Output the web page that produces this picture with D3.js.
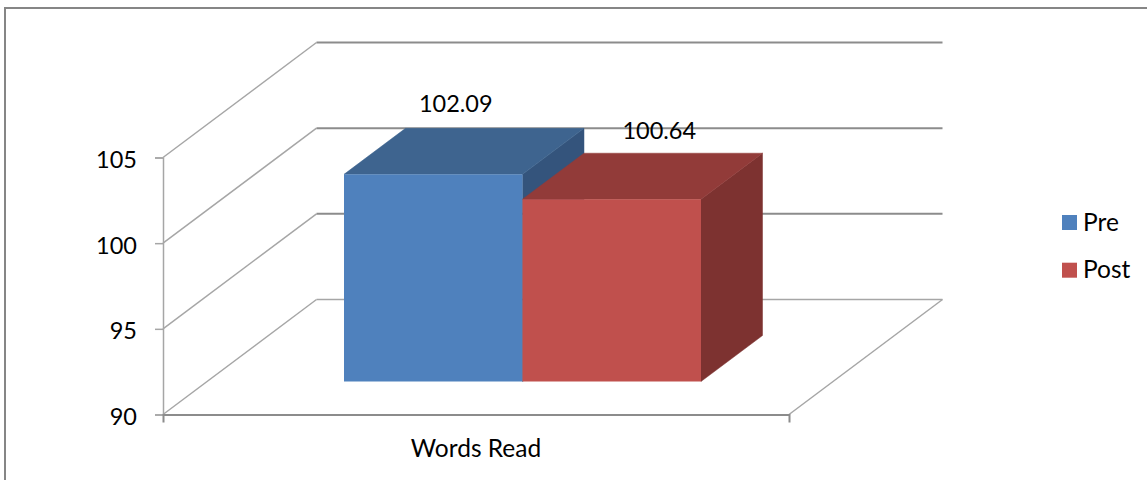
<!DOCTYPE html>
<head>
<meta charset="utf-8">
<style>
    html, body { margin: 0; padding: 0; background: #fff; }
    svg { display: block; }
    text { font-family: Lato, "Open Sans", sans-serif; font-size: 24.5px; fill: #000; }
    text.num { font-size: 23.5px; }
</style>
</head>
<body>
    <script src="https://d3js.org/d3.v7.min.js"></script>
    <script>

    ////////// DATA //////////

    const categories = ['Words Read'];
    const seriesNames = ['Pre', 'Post'];
    const seriesValues = [102.09, 100.64];
    const tickValues = [90, 95, 100, 105];
    const frontColors = ['#4f81bd', '#c0504d'];
    const topColors = ['#3e648f', '#923b39'];
    const sideColors = ['#34547c', '#7d3230'];

    ////////// SETUP //////////

    const width = 1147, height = 480;
    const wall = { dx: 153.5, dy: -115 };      // how far the back wall sits from the front
    const barFront = { dx: 46.5, dy: -33 };    // bar front face offset from the axis plane
    const barDepth = { dx: 61.5, dy: -46 };
    const labelShiftX = [22.5, 47.5];          // data labels sit at different offsets in the original
    const labelShiftY = [-62, -60];

    const svg = d3.select('body').append('svg')
        .attr('width', width)
        .attr('height', height);

    const y = d3.scaleLinear().domain([90, 105]).range([414.5, 157.5]);
    const x0 = d3.scaleBand().domain(categories).range([163, 789]);
    const barsWidth = 357;
    const center = x0(categories[0]) + x0.bandwidth() / 2;
    const x1 = d3.scaleBand().domain(seriesNames)
        .range([center + barFront.dx - barsWidth / 2, center + barFront.dx + barsWidth / 2]);

    const line = d3.line();

    // frame, cut off by the page on the right and bottom
    svg.append('path')
        .attr('d', line([[5, height], [5, 8], [width, 8]]))
        .attr('fill', 'none').attr('stroke', '#868686').attr('stroke-width', 2);

    ////////// WALLS //////////

    const grid = svg.append('g').attr('fill', 'none').attr('stroke-width', 1.5);
    const xL = x0.range()[0], xR = x0.range()[1];

    grid.selectAll('path.diag').data(tickValues).join('path')
        .attr('class', 'diag')
        .attr('stroke', '#a6a6a6')
        .attr('d', d => line([[xL, y(d)], [xL + wall.dx, y(d) + wall.dy]]));

    grid.selectAll('path.back').data(tickValues).join('path')
        .attr('class', 'back')
        .attr('stroke', d => d === 90 ? '#a6a6a6' : '#8c8c8c')
        .attr('stroke-width', d => d === 90 ? 1.5 : 2)
        .attr('d', d => line([[xL + wall.dx, y(d) + wall.dy], [xR + wall.dx, y(d) + wall.dy]]));

    // floor right edge
    grid.append('path')
        .attr('stroke', '#a6a6a6')
        .attr('d', line([[xR, y(90)], [xR + wall.dx, y(90) + wall.dy]]));

    ////////// AXES //////////

    const yAxis = svg.append('g')
        .attr('transform', `translate(${xL},0)`)
        .call(d3.axisLeft(y).tickValues(tickValues).tickSize(8).tickPadding(18));
    yAxis.selectAll('path.domain, line').attr('stroke', '#a6a6a6').attr('stroke-width', 1.5);
    yAxis.selectAll('text').attr('font-family', null).attr('font-size', null)
        .attr('class', 'num').attr('dy', '0.43em');

    const xAxis = svg.append('g')
        .attr('transform', `translate(0,${y(90)})`)
        .call(d3.axisBottom(x0).tickSize(8).tickPadding(17));
    xAxis.selectAll('.tick line').remove();
    xAxis.select('path.domain').attr('stroke', '#8c8c8c').attr('stroke-width', 2);
    xAxis.selectAll('text').attr('font-family', null).attr('font-size', null);

    ////////// BARS //////////

    const bars = svg.append('g').selectAll('g').data(seriesNames).join('g');

    function corners(name, i) {
        const l = x1(name), r = l + x1.bandwidth();
        const t = y(seriesValues[i]) + barFront.dy, b = y(90) + barFront.dy;
        return { l, r, t, b };
    }

    bars.append('path')
        .attr('fill', (d, i) => sideColors[i])
        .attr('stroke', (d, i) => sideColors[i]).attr('stroke-width', 0.5)
        .attr('d', (d, i) => {
            const c = corners(d, i);
            return line([[c.r, c.t], [c.r + barDepth.dx, c.t + barDepth.dy],
                [c.r + barDepth.dx, c.b + barDepth.dy], [c.r, c.b]]) + 'Z';
        });

    bars.append('path')
        .attr('fill', (d, i) => topColors[i])
        .attr('stroke', (d, i) => topColors[i]).attr('stroke-width', 0.5)
        .attr('d', (d, i) => {
            const c = corners(d, i);
            return line([[c.l, c.t], [c.l + barDepth.dx, c.t + barDepth.dy],
                [c.r + barDepth.dx, c.t + barDepth.dy], [c.r, c.t]]) + 'Z';
        });

    bars.append('rect')
        .attr('fill', (d, i) => frontColors[i])
        .attr('x', d => x1(d))
        .attr('width', x1.bandwidth())
        .attr('y', (d, i) => corners(d, i).t)
        .attr('height', (d, i) => corners(d, i).b - corners(d, i).t);

    ////////// LABELS //////////

    svg.append('g').selectAll('text').data(seriesValues).join('text')
        .attr('class', 'num')
        .attr('text-anchor', 'middle')
        .attr('x', (d, i) => x1(seriesNames[i]) + x1.bandwidth() / 2 + labelShiftX[i])
        .attr('y', (d, i) => corners(seriesNames[i], i).t + labelShiftY[i])
        .text(d => d.toFixed(2));

    ////////// LEGEND //////////

    const legend = svg.append('g').selectAll('g').data(seriesNames).join('g')
        .attr('transform', (d, i) => `translate(1062,${215 + i * 47.7})`);
    legend.append('rect')
        .attr('width', 15).attr('height', 15).attr('y', 0)
        .attr('fill', (d, i) => frontColors[i]);
    legend.append('text')
        .attr('x', 21).attr('y', 15.5)
        .text(d => d);

    </script>
</body>
